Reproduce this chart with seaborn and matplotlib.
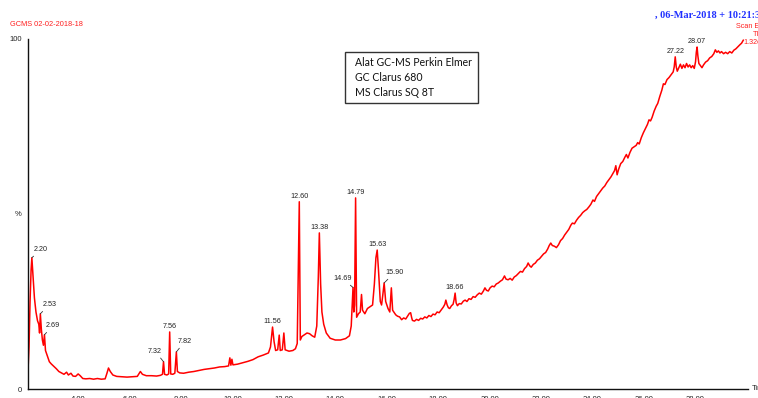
import matplotlib
matplotlib.use("Agg")
import matplotlib.pyplot as plt
from matplotlib.patches import Rectangle
from matplotlib.ticker import MultipleLocator, FixedLocator, FixedFormatter
import seaborn as sns
import pandas as pd

# Total ion chromatogram: retention time (min) and relative abundance (%)
retention_time = [
    2.00, 2.03, 2.06, 2.09, 2.13, 2.17, 2.20, 2.24, 2.30, 2.36,
    2.42, 2.47, 2.50, 2.53, 2.57, 2.61, 2.65, 2.69, 2.73, 2.80,
    2.88, 2.95, 3.05, 3.15, 3.25, 3.35, 3.45, 3.55, 3.62, 3.72,
    3.80, 3.90, 4.00, 4.08, 4.18, 4.30, 4.45, 4.60, 4.75, 4.90,
    5.05, 5.12, 5.18, 5.25, 5.35, 5.50, 5.70, 5.90, 6.10, 6.30,
    6.42, 6.50, 6.65, 6.85, 7.05, 7.20, 7.28, 7.32, 7.36, 7.45,
    7.52, 7.56, 7.60, 7.68, 7.76, 7.82, 7.86, 7.95, 8.10, 8.30,
    8.50, 8.70, 8.90, 9.10, 9.30, 9.50, 9.70, 9.85, 9.90, 9.94,
    9.98, 10.02, 10.20, 10.40, 10.60, 10.80, 11.00, 11.20, 11.40, 11.48,
    11.56, 11.62, 11.68, 11.76, 11.82, 11.86, 11.94, 12.00, 12.05, 12.20,
    12.35, 12.45, 12.52, 12.60, 12.64, 12.70, 12.80, 12.90, 13.00, 13.10,
    13.20, 13.28, 13.34, 13.38, 13.43, 13.48, 13.55, 13.65, 13.80, 14.00,
    14.20, 14.40, 14.55, 14.62, 14.69, 14.72, 14.75, 14.79, 14.83, 14.90,
    14.97, 15.02, 15.06, 15.15, 15.25, 15.35, 15.45, 15.52, 15.58, 15.63,
    15.68, 15.75, 15.80, 15.85, 15.90, 15.96, 16.05, 16.12, 16.18, 16.23,
    16.35, 16.42, 16.50, 16.58, 16.66, 16.74, 16.82, 16.88, 16.93, 16.97,
    17.00, 17.08, 17.16, 17.24, 17.32, 17.40, 17.48, 17.56, 17.64, 17.72,
    17.80, 17.88, 17.96, 18.04, 18.12, 18.20, 18.26, 18.30, 18.35, 18.40,
    18.45, 18.52, 18.58, 18.62, 18.66, 18.70, 18.75, 18.82, 18.90, 18.98,
    19.05, 19.12, 19.20, 19.28, 19.36, 19.44, 19.52, 19.60, 19.68, 19.76,
    19.82, 19.88, 19.95, 20.02, 20.10, 20.18, 20.26, 20.34, 20.42, 20.50,
    20.58, 20.64, 20.72, 20.80, 20.88, 20.96, 21.04, 21.12, 21.20, 21.28,
    21.36, 21.44, 21.50, 21.56, 21.62, 21.70, 21.78, 21.86, 21.94, 22.02,
    22.10, 22.18, 22.26, 22.32, 22.38, 22.44, 22.52, 22.60, 22.68, 22.76,
    22.84, 22.92, 23.00, 23.08, 23.16, 23.22, 23.30, 23.38, 23.46, 23.54,
    23.62, 23.70, 23.78, 23.86, 23.94, 24.02, 24.08, 24.16, 24.24, 24.32,
    24.40, 24.48, 24.56, 24.64, 24.72, 24.80, 24.86, 24.91, 24.96, 25.02,
    25.10, 25.18, 25.26, 25.32, 25.38, 25.46, 25.54, 25.62, 25.70, 25.76,
    25.82, 25.90, 25.98, 26.06, 26.14, 26.20, 26.26, 26.32, 26.40, 26.48,
    26.54, 26.62, 26.70, 26.76, 26.82, 26.90, 26.98, 27.06, 27.14, 27.18,
    27.22, 27.26, 27.30, 27.36, 27.42, 27.48, 27.54, 27.60, 27.66, 27.72,
    27.78, 27.84, 27.90, 27.96, 28.01, 28.04, 28.07, 28.10, 28.14, 28.20,
    28.26, 28.32, 28.40, 28.48, 28.56, 28.64, 28.72, 28.78, 28.84, 28.90,
    28.96, 29.02, 29.10, 29.18, 29.26, 29.34, 29.42, 29.50, 29.58, 29.66,
    29.74, 29.80, 29.87,
]
abundance = [
    0.0, 9.0, 7.0, 12.0, 25.0, 34.0, 37.5, 33.0, 26.0, 22.0,
    19.5, 18.5, 16.0, 21.5, 17.0, 14.0, 12.5, 15.5, 11.0, 9.5,
    7.8, 7.2, 6.5, 5.8, 5.0, 4.6, 4.2, 4.8, 4.0, 4.5,
    3.7, 3.6, 4.3, 3.8, 3.0, 2.9, 3.0, 2.8, 3.0, 2.8,
    2.9, 4.5, 6.0, 5.0, 4.0, 3.6, 3.5, 3.4, 3.5, 3.6,
    5.0, 4.2, 3.8, 3.8, 3.7, 3.9, 4.2, 7.8, 4.2, 4.0,
    4.3, 16.3, 4.3, 4.2, 4.5, 10.6, 5.0, 4.6, 4.5, 4.8,
    5.0, 5.3, 5.6, 5.8, 6.0, 6.3, 6.4, 6.6, 8.9, 6.8,
    8.5, 6.9, 7.1, 7.5, 7.9, 8.4, 9.2, 9.7, 10.3, 12.0,
    17.7, 13.5, 11.0, 11.2, 15.4, 11.0, 11.2, 16.0, 11.2, 10.8,
    11.0, 11.5, 13.0, 53.5, 14.0, 15.0, 15.5, 16.0, 15.8, 15.2,
    14.8, 18.0, 32.0, 44.6, 30.0, 22.0, 18.5, 16.0, 14.5, 14.0,
    14.0, 14.4, 15.2, 18.0, 29.0, 22.0, 24.0, 54.6, 20.5, 21.5,
    22.0, 27.0, 22.5, 21.5, 23.0, 23.5, 24.0, 30.0, 37.5, 39.7,
    34.0, 25.0, 24.0, 27.0, 30.3, 25.0, 23.0, 22.0, 28.9, 22.5,
    21.2, 20.8, 20.6, 19.8, 20.3, 20.0, 20.9, 21.6, 21.8, 20.4,
    19.6, 19.4, 19.9, 19.6, 20.2, 20.0, 20.6, 20.3, 21.0, 20.7,
    21.4, 21.2, 22.0, 21.8, 22.6, 23.4, 24.2, 25.4, 24.0, 23.2,
    23.0, 23.8, 24.2, 25.5, 27.4, 24.6, 23.8, 24.4, 24.3, 25.1,
    25.4, 25.0, 25.8, 25.6, 26.4, 26.2, 26.9, 27.4, 27.1, 28.0,
    28.9, 28.2, 28.0, 28.9, 29.4, 29.2, 30.0, 30.3, 30.8, 31.2,
    32.3, 31.4, 31.2, 31.6, 31.1, 32.0, 32.4, 33.0, 33.6, 33.4,
    34.4, 35.0, 36.0, 35.2, 34.8, 35.6, 36.0, 36.8, 37.2, 37.9,
    38.6, 39.0, 40.0, 41.0, 41.7, 41.0, 40.8, 40.4, 41.2, 42.4,
    43.0, 44.0, 44.8, 45.6, 46.8, 47.4, 47.2, 48.2, 49.0, 49.6,
    50.4, 50.9, 51.3, 52.0, 52.8, 54.0, 53.6, 55.0, 55.8, 56.6,
    57.4, 58.0, 59.0, 59.8, 60.6, 61.6, 62.4, 63.8, 61.2, 62.8,
    64.4, 65.0, 66.2, 67.0, 66.0, 67.6, 68.8, 69.2, 69.6, 70.4,
    70.0, 71.8, 73.2, 74.4, 75.6, 76.9, 76.6, 77.6, 79.4, 80.8,
    81.6, 83.6, 85.4, 87.2, 87.0, 88.4, 89.0, 89.8, 90.6, 92.0,
    94.9, 92.0, 90.8, 91.8, 92.8, 91.6, 92.6, 91.8, 93.0, 92.0,
    92.6, 91.8, 92.4, 91.6, 93.5, 96.2, 97.7, 95.2, 93.0, 92.4,
    91.8, 92.6, 93.4, 93.8, 94.6, 95.0, 95.8, 96.9, 96.2, 96.6,
    96.0, 96.4, 95.8, 96.2, 95.8, 96.4, 96.0, 96.8, 97.2, 97.8,
    98.4, 98.8, 99.7,
]

# Labelled peaks (retention times as printed above each peak)
peak_labels = ["2.20", "2.53", "2.69", "7.32", "7.56", "7.82", "11.56", "12.60",
               "13.38", "14.69", "14.79", "15.63", "15.90", "18.66", "27.22", "28.07"]

x_tick_values = [4, 6, 8, 10, 12, 14, 16, 18, 20, 22, 24, 26, 28]
x_tick_labels = ["4.00", "6.00", "8.00", "10.00", "12.00", "14.00", "16.00",
                 "18.00", "20.00", "22.00", "24.00", "26.00", "28.00"]
y_tick_values = [0, 10, 20, 30, 40, 50, 60, 70, 80, 90, 100]
y_tick_labels = ["0", "", "", "", "", "%", "", "", "", "", "100"]

info_lines = ["Alat GC-MS Perkin Elmer", "GC Clarus 680", "MS Clarus SQ 8T"]

sns.set_style("white")
plt.rcParams["font.family"] = ["Liberation Sans", "DejaVu Sans"]

W, H = 758, 398
fig = plt.figure(figsize=(W / 100, H / 100), dpi=100)


def fx(px):
    return px / W


def fy(py):
    return 1 - py / H


ax = fig.add_axes([fx(28), fy(389), (748 - 28) / W, (389 - 39) / H])

df = pd.DataFrame({"rt": retention_time, "pct": abundance})
sns.lineplot(data=df, x="rt", y="pct", color="#ff0000", linewidth=1.1,
             estimator=None, sort=False, ax=ax)

ax.set_xlim(2.05, 30.05)
ax.set_ylim(0, 100)
ax.set_xlabel("")
ax.set_ylabel("")
for side in ("top", "right"):
    ax.spines[side].set_visible(False)
for side in ("left", "bottom"):
    ax.spines[side].set_color("#111111")
    ax.spines[side].set_linewidth(1.0)

ax.xaxis.set_major_locator(FixedLocator(x_tick_values))
ax.xaxis.set_major_formatter(FixedFormatter(x_tick_labels))
ax.xaxis.set_minor_locator(MultipleLocator(0.2))
ax.tick_params(axis="x", which="major", direction="out", length=4, width=0.8,
               labelsize=5.5, pad=1.0, colors="#222222")
ax.tick_params(axis="x", which="minor", direction="out", length=2.2, width=0.6,
               colors="#222222")
ax.yaxis.set_major_locator(FixedLocator(y_tick_values))
ax.yaxis.set_major_formatter(FixedFormatter(y_tick_labels))
ax.tick_params(axis="y", which="major", direction="out", length=3, width=0.7,
               labelsize=5.5, pad=1.5, colors="#222222")

# Peak annotations: (x offset, y offset) in points, alignment, leader line
label_style = {
    "2.20": (1.5, 3.5, "left", True),
    "2.53": (1.5, 4.0, "left", True),
    "2.69": (1.0, 4.0, "left", True),
    "7.32": (-1.0, 5.0, "right", True),
    "7.82": (1.0, 5.0, "left", True),
    "14.69": (-1.0, 4.0, "right", True),
    "15.90": (1.0, 5.0, "left", True),
}
for lab in peak_labels:
    t = float(lab)
    idx = min(range(len(retention_time)), key=lambda i: abs(retention_time[i] - t))
    val = abundance[idx]
    dx, dy, ha, leader = label_style.get(lab, (0.0, 1.5, "center", False))
    kw = {}
    if leader:
        kw["arrowprops"] = dict(arrowstyle="-", color="#333333", lw=0.6,
                                shrinkA=0, shrinkB=0)
    ax.annotate(lab, xy=(t, val), xytext=(dx, dy), textcoords="offset points",
                ha=ha, va="bottom", fontsize=5.2, color="#222222", **kw)

# Header texts
fig.text(fx(10), fy(25), "GCMS 02-02-2018-18", fontsize=5.3, color="#ff2020",
         va="center", ha="left")
fig.text(fx(655), fy(15), ", 06-Mar-2018 + 10:21:31", fontsize=7.4,
         fontweight="bold", color="#2030ff", family="Liberation Serif",
         va="center", ha="left")
fig.text(fx(736), fy(26), "Scan EI+", fontsize=5.2, color="#ff2020", va="center")
fig.text(fx(753), fy(34), "TIC", fontsize=5.2, color="#ff2020", va="center")
fig.text(fx(743), fy(43), "1.32e10", fontsize=5.2, color="#ff2020", va="center")
fig.text(fx(752), fy(389), "Time", fontsize=5.5, color="#222222", va="center")

# Instrument information box
fig.patches.append(Rectangle((fx(345), fy(103)), (478 - 345) / W, (103 - 52) / H,
                             transform=fig.transFigure, fill=False,
                             edgecolor="#333333", linewidth=1.0))
for i, line in enumerate(info_lines):
    fig.text(fx(355), fy(63 + 14.5 * i), line, fontsize=7.6, family="Lato",
             color="#111111", va="center", ha="left")

fig.savefig("out.png", dpi=100)
